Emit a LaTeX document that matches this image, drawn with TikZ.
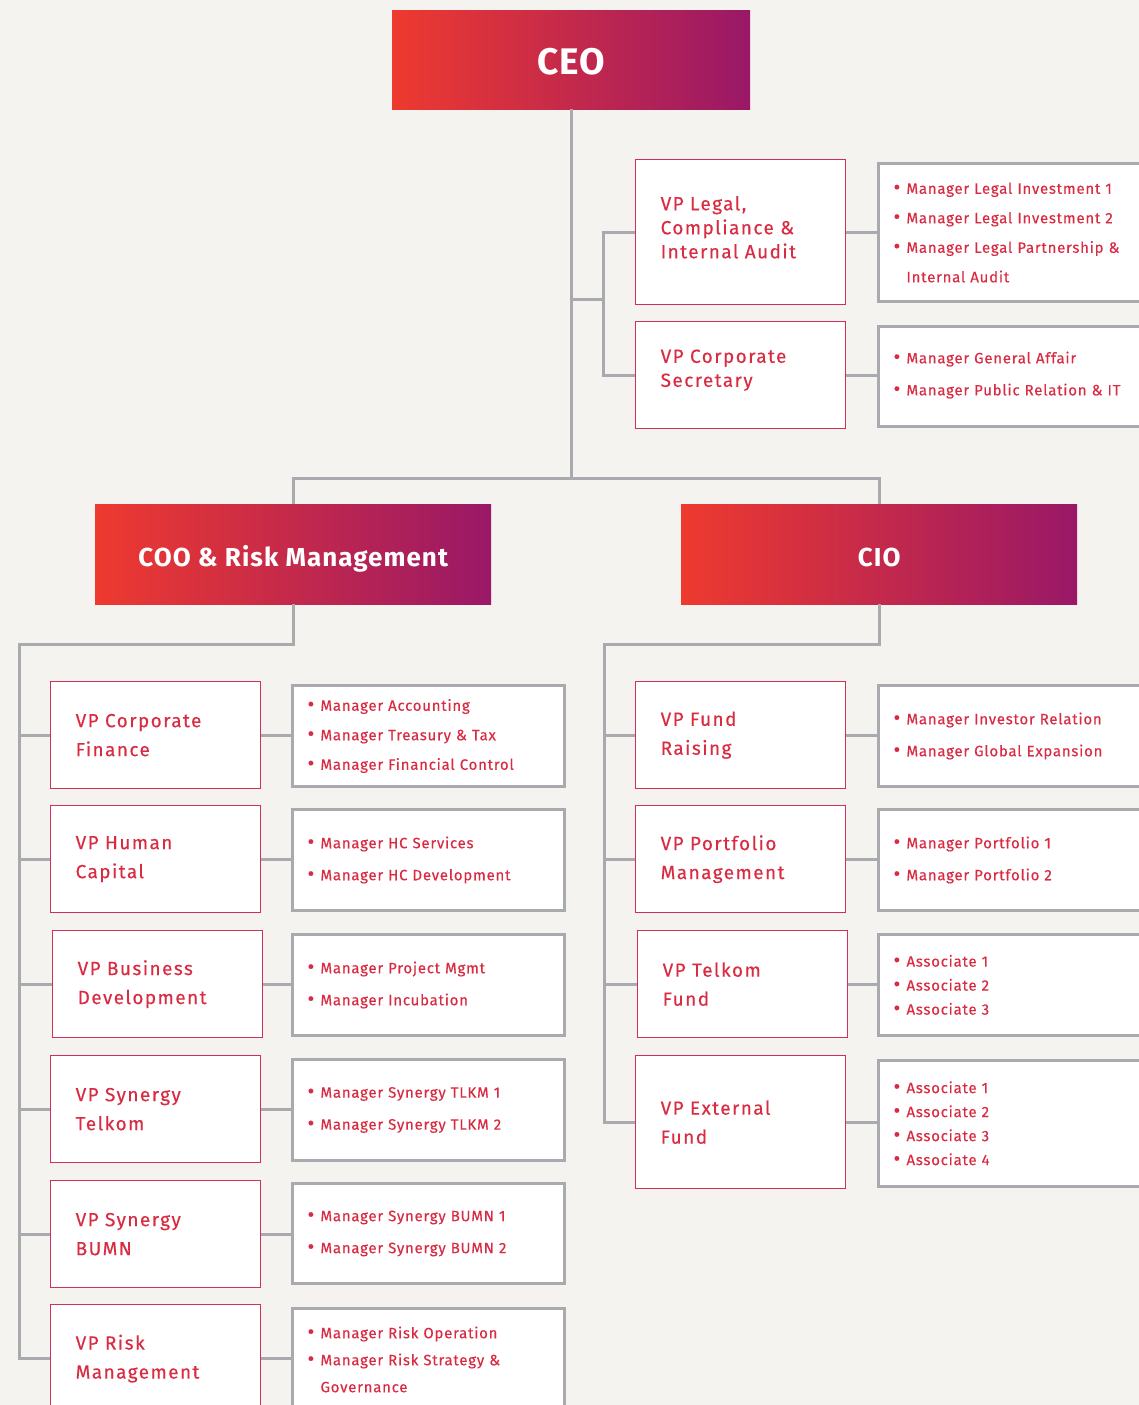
\documentclass[tikz,border=0pt]{standalone}
\usepackage{fontspec}
\setmainfont{Fira Sans}[FakeBold=0.25]
\newfontfamily\headfont{Fira Sans}[BoldFont={* Bold}]
\definecolor{bg}{HTML}{F4F3EF}
\definecolor{gradL}{HTML}{EE3A2F}
\definecolor{gradR}{HTML}{991867}
\definecolor{linegray}{HTML}{A9AAAD}
\definecolor{txtred}{HTML}{D92B42}
\definecolor{vpborder}{HTML}{D2305C}
\newcommand\bul{\makebox[13pt][l]{\raisebox{-0.5pt}{\fontsize{21}{21}\selectfont\textbullet}}}
\newcommand\ind{\hspace*{13pt}}
\tikzset{
  conn/.style={draw=linegray, line width=3pt},
  topbox/.style={rectangle, left color=gradL, right color=gradR, draw=none, text=white,
    inner sep=0pt, anchor=north west, text depth=0pt},
  vpbox/.style={rectangle, fill=white, draw=vpborder, line width=1.3pt, text=txtred,
    align=left, inner xsep=25pt, inner ysep=0pt, text width=160pt, minimum height=107pt,
    anchor=north west, font={\fontsize{19}{29}\selectfont\addfontfeature{LetterSpace=7.5}}},
  vptight/.style={font={\fontsize{19}{24}\selectfont\addfontfeature{LetterSpace=7.5}}},
  mgrbox/.style={rectangle, fill=white, draw=linegray, line width=3pt, text=txtred,
    align=left, inner xsep=15pt, inner ysep=0pt, minimum height=101pt,
    anchor=north west, font={\fontsize{15}{32}\selectfont\addfontfeature{LetterSpace=5}}},
  mgrR/.style={mgrbox, text width=270pt},
  mgrL/.style={mgrbox, text width=242pt},
  sp/.style={font={\fontsize{15}{#1}\selectfont\addfontfeature{LetterSpace=5}}},
}
\begin{document}
\begin{tikzpicture}[x=1pt,y=-1pt]
\useasboundingbox (0,0) rectangle (1139,1405);
\fill[bg] (0,0) rectangle (1139,1405);

% top level
\node[topbox, minimum width=358pt, minimum height=99pt, text height=30.5pt, font={\headfont\bfseries\fontsize{37}{40}\selectfont\addfontfeature{LetterSpace=3}}] (ceo) at (392,10) {CEO};
\node[topbox, minimum width=396pt, minimum height=100pt, text height=25pt, font={\headfont\bfseries\fontsize{26}{30}\selectfont\addfontfeature{LetterSpace=4}}] (coo) at (95,504) {COO \& Risk Management};
\node[topbox, minimum width=396pt, minimum height=100pt, text height=25pt, font={\headfont\bfseries\fontsize{26}{30}\selectfont\addfontfeature{LetterSpace=4}}] (cio) at (681,504) {CIO};

% VP under CEO
\node[vpbox, vptight, minimum height=145pt] (vplegal) at (635,159) {VP Legal,\\Compliance \&\\Internal Audit\\[-14pt]\mbox{}};
\node[vpbox, vptight] (vpsec) at (635,321) {VP Corporate\\Secretary\\[-10pt]\mbox{}};
\node[mgrR, sp=29.5, minimum height=138pt] (mlegal) at (877,162) {\bul Manager Legal Investment 1\\\bul Manager Legal Investment 2\\\bul Manager Legal Partnership \&\\\ind Internal Audit};
\node[mgrR, minimum height=100pt] (msec) at (877,325) {\bul Manager General Affair\\\bul Manager Public Relation \& IT\\[-26pt]\mbox{}};

% left column
\node[vpbox] (vpcf) at (50,681) {VP Corporate\\Finance};
\node[vpbox] (vphc) at (50,805) {VP Human\\Capital};
\node[vpbox] (vpbd) at (52,930) {VP Business\\Development};
\node[vpbox] (vpst) at (50,1055) {VP Synergy\\Telkom};
\node[vpbox] (vpsb) at (50,1180) {VP Synergy\\BUMN};
\node[vpbox, minimum height=108pt] (vprm) at (50,1304) {VP Risk\\Management};

\node[mgrL, sp=29.5] (mcf) at (291,684) {\bul Manager Accounting\\\bul Manager Treasury \& Tax\\\bul Manager Financial Control};
\node[mgrL] (mhc) at (291,808) {\bul Manager HC Services\\\bul Manager HC Development};
\node[mgrL] (mbd) at (291,933) {\bul Manager Project Mgmt\\\bul Manager Incubation};
\node[mgrL] (mst) at (291,1058) {\bul Manager Synergy TLKM 1\\\bul Manager Synergy TLKM 2};
\node[mgrL, minimum height=100pt] (msb) at (291,1182) {\bul Manager Synergy BUMN 1\\\bul Manager Synergy BUMN 2};
\node[mgrL, sp=27, minimum height=102pt] (mrm) at (291,1307) {\bul Manager Risk Operation\\\bul Manager Risk Strategy \&\\\ind Governance};

% right column
\node[vpbox] (vpfr) at (635,681) {VP Fund\\Raising};
\node[vpbox] (vppm) at (635,805) {VP Portfolio\\Management};
\node[vpbox] (vptf) at (637,930) {VP Telkom\\Fund};
\node[vpbox, minimum height=133pt] (vpef) at (635,1055) {VP External\\Fund};

\node[mgrR] (mfr) at (877,684) {\bul Manager Investor Relation\\\bul Manager Global Expansion};
\node[mgrR] (mpm) at (877,808) {\bul Manager Portfolio 1\\\bul Manager Portfolio 2};
\node[mgrR, sp=24] (mtf) at (877,933) {\bul Associate 1\\\bul Associate 2\\\bul Associate 3};
\node[mgrR, sp=24, minimum height=126pt] (mef) at (877,1059) {\bul Associate 1\\\bul Associate 2\\\bul Associate 3\\\bul Associate 4};

% connectors: CEO level
\coordinate (jmid) at (571,478);
\coordinate (sp1) at (571,299);
\coordinate (bus1) at (603,299);
\coordinate (lbus) at (19,644);
\coordinate (rbus) at (604,644);

\draw[conn] (ceo.south) -- (ceo.south |- jmid);
\draw[conn] (coo.north) |- (jmid) -| (cio.north);
\draw[conn] (sp1) -- (bus1);
\draw[conn] (vplegal.west) -| (bus1) |- (vpsec.west);
\draw[conn] (vplegal.east) -- (vplegal.east -| mlegal.west);
\draw[conn] (vpsec.east) -- (vpsec.east -| msec.west);

% COO branch
\draw[conn] (coo.south) |- (lbus) |- (vprm.west);
\foreach \v/\m in {vpcf/mcf, vphc/mhc, vpbd/mbd, vpst/mst, vpsb/msb, vprm/mrm}{
  \draw[conn] (lbus |- \v.west) -- (\v.west);
  \draw[conn] (\v.east) -- (\v.east -| \m.west);
}

% CIO branch
\draw[conn] (cio.south) |- (rbus) |- (vpef.west);
\foreach \v/\m in {vpfr/mfr, vppm/mpm, vptf/mtf, vpef/mef}{
  \draw[conn] (rbus |- \v.west) -- (\v.west);
  \draw[conn] (\v.east) -- (\v.east -| \m.west);
}
\end{tikzpicture}
\end{document}
